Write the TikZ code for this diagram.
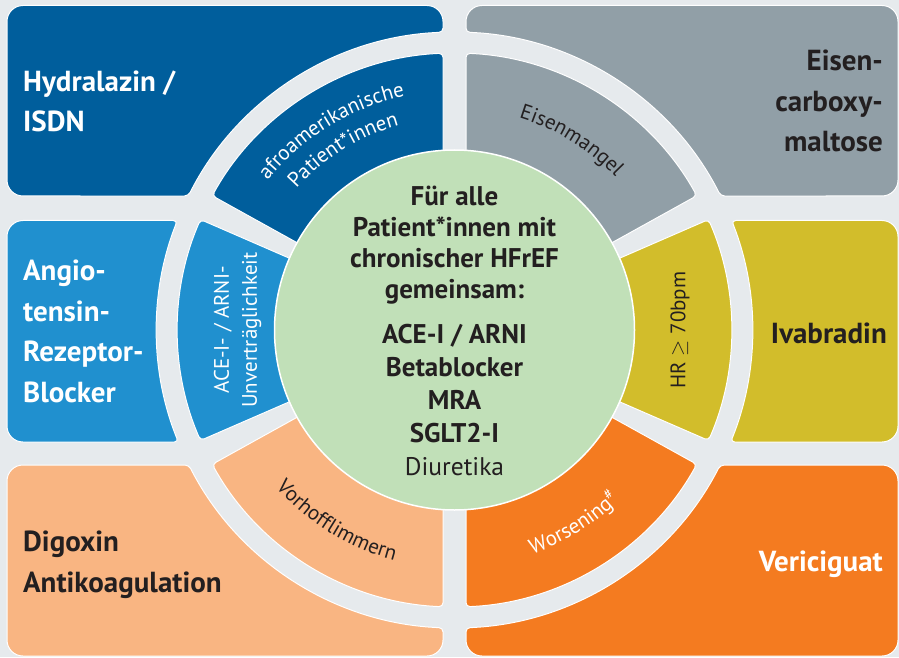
\documentclass[tikz,border=0pt]{standalone}
\usepackage{fontspec}
\setmainfont{PT Sans}
\usetikzlibrary{decorations.text}

\definecolor{bgc}{HTML}{E6EAED}
\definecolor{navy}{HTML}{005E9C}
\definecolor{slate}{HTML}{919FA7}
\definecolor{mustard}{HTML}{D2BD2B}
\definecolor{sky}{HTML}{2090CF}
\definecolor{peach}{HTML}{F9B582}
\definecolor{tangerine}{HTML}{F47B20}
\definecolor{mint}{HTML}{C1E0B8}
\definecolor{ink}{HTML}{231F20}

\newcommand{\labelfont}{\fontsize{29}{40.5}\selectfont\bfseries}
\newcommand{\ringfont}{\fontsize{21}{28}\selectfont}
\newcommand{\corefont}{\fontsize{27}{31}\selectfont\bfseries}

\tikzset{
  panel/.style={draw=white, line width=1pt},
  sector/.style={draw=white, line width=1pt, rounded corners=4},
  lbl/.style={inner sep=0pt, font=\labelfont},
  arctext/.style={decorate, decoration={text along path, text align=center, text={#1}}},
}

\begin{document}
\begin{tikzpicture}[x=1pt,y=1pt]
\useasboundingbox (0,0) rectangle (899,657);
\fill[bgc] (0,0) rectangle (899,657);

\begin{scope}[shift={(454.5,327)}]
  % outer panels
  \fill[navy, panel] (-447.5,230) [rounded corners=16] -- (-447.5,324.5) -- (-11.5,324.5)
     [rounded corners=4] -- (-11.5,297.78) arc[start angle=92.21, end angle=153.28, radius=298]
     [rounded corners=16] -- (-447.5,134) -- cycle;
  \fill[slate, panel] (443.5,230) [rounded corners=16] -- (443.5,324.5) -- (11.5,324.5)
     [rounded corners=4] -- (11.5,297.78) arc[start angle=87.79, end angle=26.72, radius=298]
     [rounded corners=16] -- (443.5,134) -- cycle;
  \fill[sky, panel] (-447.5,0) [rounded corners=16] -- (-447.5,109.5)
     [rounded corners=4] -- (-277.15,109.5) arc[start angle=158.44, end angle=202.08, radius=298]
     [rounded corners=16] -- (-447.5,-112) -- cycle;
  \fill[mustard, panel] (443.5,0) [rounded corners=16] -- (443.5,109.5)
     [rounded corners=4] -- (277.15,109.5) arc[start angle=21.56, end angle=-22.08, radius=298]
     [rounded corners=16] -- (443.5,-112) -- cycle;
  \fill[peach, panel] (-447.5,-230) [rounded corners=16] -- (-447.5,-326) -- (-11.5,-326)
     [rounded corners=4] -- (-11.5,-297.78) arc[start angle=267.79, end angle=206.94, radius=298]
     [rounded corners=16] -- (-447.5,-135) -- cycle;
  \fill[tangerine, panel] (443.5,-230) [rounded corners=16] -- (443.5,-326) -- (11.5,-326)
     [rounded corners=4] -- (11.5,-297.78) arc[start angle=272.21, end angle=333.06, radius=298]
     [rounded corners=16] -- (443.5,-135) -- cycle;

  % ring sectors
  \fill[navy, sector] (151:170) -- (151:277) arc[start angle=151, end angle=92.38, radius=277] -- (-11.5,169.6) -- cycle;
  \fill[slate, sector] (29:170) -- (29:277) arc[start angle=29, end angle=87.62, radius=277] -- (11.5,169.6) -- cycle;
  \fill[mustard, sector] (-23.5:170) -- (-23.5:277) arc[start angle=-23.5, end angle=23.5, radius=277] -- (23.5:170) -- cycle;
  \fill[tangerine, sector] (-29:170) -- (-29:277) arc[start angle=-29, end angle=-87.62, radius=277] -- (11.5,-169.6) -- cycle;
  \fill[peach, sector] (209:170) -- (209:277) arc[start angle=209, end angle=267.62, radius=277] -- (-11.5,-169.6) -- cycle;
  \fill[sky, sector] (156.5:170) -- (156.5:277) arc[start angle=156.5, end angle=203.5, radius=277] -- (203.5:170) -- cycle;

  % centre disc
  \fill[mint, draw=white, line width=1.5pt] (0,0) circle[radius=180];

  % ring captions
  \path[arctext={|\ringfont\color{white}|afroamerikanische}] (151:239) arc[start angle=151, end angle=92.38, radius=239];
  \path[arctext={|\ringfont\color{white}|Patient*innen}] (151:212) arc[start angle=151, end angle=92.38, radius=212];
  \path[arctext={|\ringfont\color{ink}|Eisenmangel}] (87.62:222) arc[start angle=87.62, end angle=29, radius=222];
  \path[arctext={|\ringfont\color{ink}|Vorhofflimmern}] (209:238) arc[start angle=209, end angle=267.62, radius=238];
  \path[arctext={|\ringfont\color{white}|Worsening{\textsuperscript{\#}}}] (272.38:237) arc[start angle=272.38, end angle=331, radius=237];
  \node[rotate=90, align=center, font=\ringfont, text=white, inner sep=0pt] (intol) at (-217,0) {ACE-I- / ARNI-\\Unverträglichkeit};
  \node[rotate=90, font=\ringfont, text=ink, inner sep=0pt] (hr) at (225.5,0) {HR $\geq$ 70bpm};

  % common therapy
  \node[align=center, font=\corefont, text=ink, inner sep=0pt, anchor=base] (core) at (0,-145)
    {Für alle\\Patient*innen mit\\chronischer HFrEF\\gemeinsam:\\[14pt]ACE-I / ARNI\\[2pt]Betablocker\\[2pt]MRA\\[2pt]SGLT2-I\\[2pt]{\mdseries\fontsize{25.5}{31}\selectfont Diuretika}};
\end{scope}

% panel labels (base anchor = baseline of the last line)
\node[lbl, text=white, anchor=base west, align=left] (hyd) at (23,525) {Hydralazin /\\ISDN};
\node[lbl, text=ink, anchor=base east, align=right] (fcm) at (883,505) {\fontsize{29}{39}\selectfont Eisen-\\carboxy-\\maltose};
\node[lbl, text=white, anchor=base west, align=left] (arb) at (23,255) {Angio-\\tensin-\\Rezeptor-\\Blocker};
\node[lbl, text=ink, anchor=base east] (iva) at (887,314) {Ivabradin};
\node[lbl, text=ink, anchor=base west, align=left] (dig) at (23,65) {Digoxin\\Antikoagulation};
\node[lbl, text=white, anchor=base east] (ver) at (883,86) {Vericiguat};
\end{tikzpicture}
\end{document}
